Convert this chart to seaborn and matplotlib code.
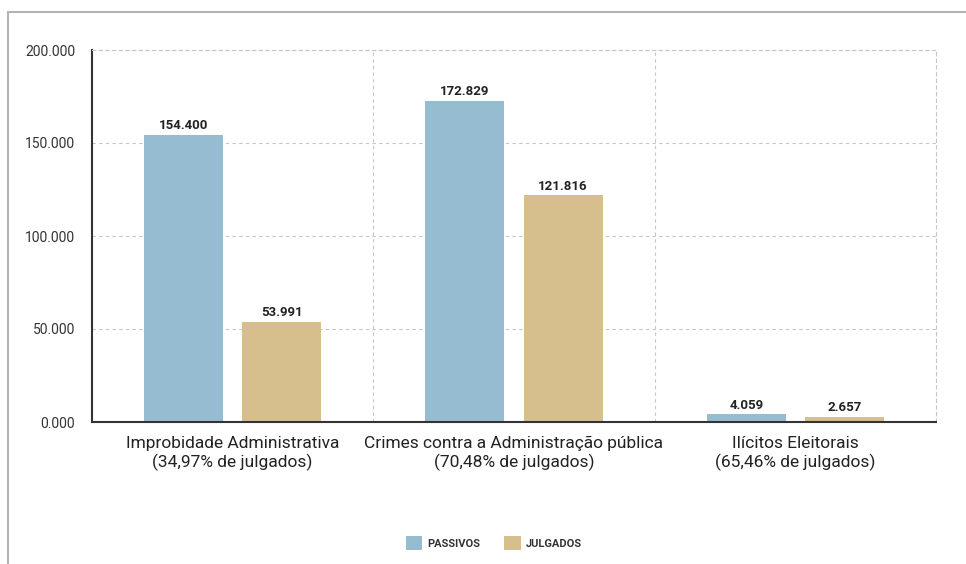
import pandas as pd
import matplotlib
matplotlib.use("Agg")
import matplotlib.pyplot as plt
from matplotlib.patches import Patch, Rectangle
import seaborn as sns

categorias = [
    "Improbidade Administrativa\n(34,97% de julgados)",
    "Crimes contra a Administração pública\n(70,48% de julgados)",
    "Ilícitos Eleitorais\n(65,46% de julgados)",
]
series = ["PASSIVOS", "JULGADOS"]
passivos = [154400, 172829, 4059]
julgados = [53991, 121816, 2657]
yticks = [0, 50000, 100000, 150000, 200000]
ytick_labels = ["0.000", "50.000", "100.000", "150.000", "200.000"]
cores = ["#96bcd2", "#d6bf8d"]

df = pd.DataFrame({
    "categoria": categorias * 2,
    "serie": [series[0]] * 3 + [series[1]] * 3,
    "valor": passivos + julgados,
})

def fmt_pt(v):
    return f"{int(round(v)):,}".replace(",", ".")

sns.set_style("white")
plt.rcParams["font.family"] = ["Roboto", "DejaVu Sans"]

fig = plt.figure(figsize=(9.66, 5.64), dpi=100)
ax = fig.add_axes([92 / 966, 1 - 422 / 564, (936 - 92) / 966, (422 - 50) / 564])

sns.barplot(data=df, x="categoria", y="valor", hue="serie", hue_order=series,
            palette=cores, width=0.697, gap=0.194, saturation=1, legend=False,
            linewidth=0, edgecolor="none", ax=ax)

for cont in ax.containers:
    ax.bar_label(cont, labels=[fmt_pt(b.get_height()) for b in cont], padding=2,
                 fontsize=9.5, fontweight="bold", color="#222222")

ax.set_xlim(-0.5, 2.5)
ax.set_ylim(0, 200000)
ax.set_yticks(yticks)
ax.set_yticklabels(ytick_labels, fontsize=10, color="#333333")
ax.tick_params(axis="y", length=0, pad=12)
ax.tick_params(axis="x", length=0, pad=10, labelsize=12.5, labelcolor="#222222")
ax.set_xlabel("")
ax.set_ylabel("")

ax.grid(axis="y", linestyle=(0, (3, 3)), color="#c6c6c6", linewidth=0.8)
ax.set_axisbelow(True)
for xv in [0.5, 1.5]:
    ax.axvline(xv, linestyle=(0, (3, 3)), color="#c6c6c6", linewidth=0.8, zorder=0)

for s in ["left", "bottom"]:
    ax.spines[s].set_color("#333333")
    ax.spines[s].set_linewidth(1.5)
for s in ["top", "right"]:
    ax.spines[s].set_color("#c6c6c6")
    ax.spines[s].set_linewidth(0.8)
    ax.spines[s].set_linestyle((0, (3, 3)))

fig.patches.append(Rectangle((8 / 966, -0.1), 1.2, 1 - 12 / 564 + 0.1,
                             transform=fig.transFigure, fill=False,
                             edgecolor="#b4b4b4", linewidth=1.5))

handles = [Patch(facecolor=c, edgecolor="none", label=s) for c, s in zip(cores, series)]
leg = fig.legend(handles=handles, loc="center", bbox_to_anchor=(0.511, 0.037), ncol=2,
                 frameon=False, prop={"size": 8, "weight": "bold"},
                 handlelength=1.5, handleheight=1.5, handletextpad=0.4, columnspacing=2.2)
for t in leg.get_texts():
    t.set_color("#333333")

fig.savefig("out.png", dpi=100)
